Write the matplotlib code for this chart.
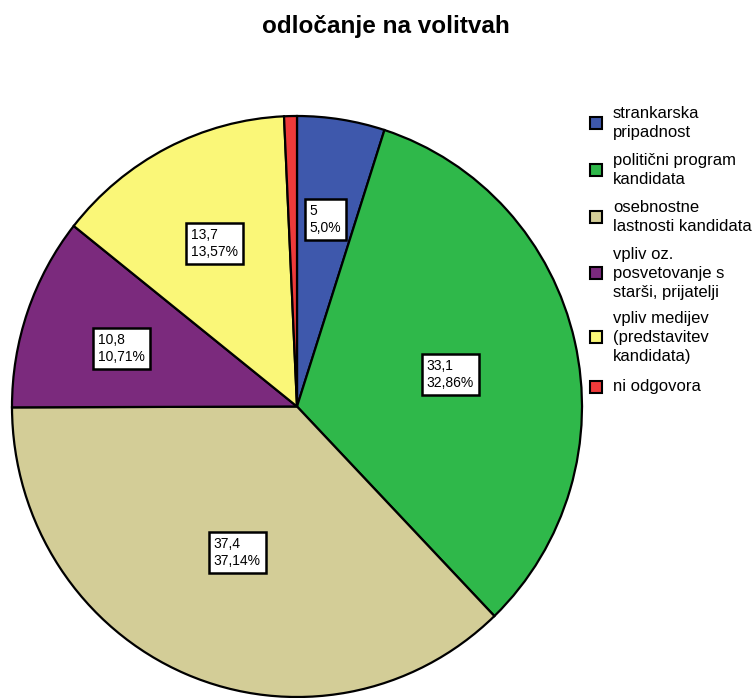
import matplotlib
matplotlib.use("Agg")
import matplotlib.pyplot as plt
from matplotlib.patches import Rectangle

plt.rcParams['font.family'] = ['Liberation Sans', 'DejaVu Sans']

categories = ["strankarska\npripadnost", "politični program\nkandidata",
              "osebnostne\nlastnosti kandidata", "vpliv oz.\nposvetovanje s\nstarši, prijatelji",
              "vpliv medijev\n(predstavitev\nkandidata)", "ni odgovora"]
values = [5, 33.1, 37.4, 10.8, 13.7, 0.73]
value_labels = ["5", "33,1", "37,4", "10,8", "13,7", None]
pct_labels = ["5,0%", "32,86%", "37,14%", "10,71%", "13,57%", None]
colors = ["#3e58ac", "#2fb84a", "#d3cd97", "#7b2a7d", "#faf778", "#ee3a3a"]

W, H = 752, 698
fig = plt.figure(figsize=(W / 100, H / 100), dpi=100)
ax = fig.add_axes([0, 0, 1, 1])

cx, cy, rx, ry = 297, 406.5, 285, 290.5
ax.pie(values, colors=colors, startangle=90, counterclock=False, radius=1,
       wedgeprops=dict(edgecolor="black", linewidth=1.6))
ax.set_aspect('auto')
ax.set_xlim(-cx / rx, (W - cx) / rx)
ax.set_ylim((cy - H) / ry, cy / ry)
ax.axis('off')

def px2data(px, py):
    return (px - cx) / rx, (cy - py) / ry

# label box top-left positions (pixels)
box_pos = [(304, 198), (421, 353), (208, 531), (92, 327), (185, 222), None]
pad_px = 4.8
for vl, pl, pos in zip(value_labels, pct_labels, box_pos):
    if vl is None:
        continue
    x, y = px2data(pos[0] + pad_px + 1, pos[1] + pad_px + 1)
    ax.text(x, y, f"{vl}\n{pl}", ha="left", va="top", fontsize=10, linespacing=1.28,
            color="black",
            bbox=dict(boxstyle="square,pad=0.35", fc="white", ec="black", lw=1.8))

# title
fig.text(386 / W, 1 - 27 / H, "odločanje na volitvah", ha="center", va="center",
         fontsize=17.5, fontweight="bold")

# legend (manual)
sq_y = [122.7, 170, 217.3, 273.3, 337.3, 386.7]
for cat, col, yc in zip(categories, colors, sq_y):
    fig.patches.append(Rectangle((590 / W, 1 - (yc + 6) / H), 12 / W, 12 / H,
                                 transform=fig.transFigure, fc=col, ec="black", lw=1.5))
    fig.text(613 / W, 1 - yc / H, cat, ha="left", va="center", fontsize=12,
             linespacing=1.35)

fig.savefig("out.png", dpi=100)
